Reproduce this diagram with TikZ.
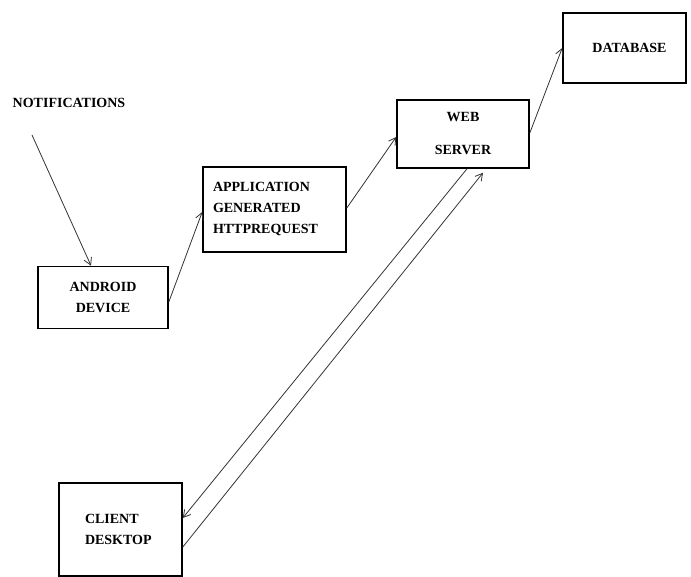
\documentclass[tikz,border=0pt]{standalone}
\usepackage{fontspec}
\setmainfont{Liberation Serif}
\usetikzlibrary{arrows.meta}

\begin{document}
\begin{tikzpicture}[x=1pt, y=-1pt,
    box/.style={draw, line width=1.6pt, inner sep=0pt, align=center,
        font=\bfseries\fontsize{14}{21}\selectfont},
    flow/.style={line width=0.8pt, black!80, -{Straight Barb[length=7pt,width=8pt]}}]
    \useasboundingbox (0,0) rectangle (691,577);

    \node[font=\bfseries\fontsize{14}{21}\selectfont] (notif) at (69,103) {NOTIFICATIONS};
    \coordinate (notifstart) at (32,135);

    \node[box, minimum width=130, minimum height=62] (android) at (103,297.5) {ANDROID\\DEVICE};
    \node[box, minimum width=143, minimum height=85, text width=123, align=left] (app) at (274.5,209.5)
        {APPLICATION\\GENERATED\\HTTPREQUEST};
    \node[box, minimum width=132, minimum height=68] (web) at (463,134) {WEB\\[12pt]SERVER};
    \node[box, minimum width=123, minimum height=70] (db) at (624.5,48) {\hspace{10pt}DATABASE};
    \node[box, minimum width=123, minimum height=93, text width=71, align=left] (client) at (120.5,529.5)
        {CLIENT\\DESKTOP};

    \draw[flow] (notifstart) -- ([xshift=-12pt]android.north);
    \draw[flow] ([yshift=-4.5pt]android.east) -- ([yshift=-2.5pt]app.west);
    \draw[flow] ([yshift=1.5pt]app.east) -- ([yshift=-3pt]web.west);
    \draw[flow] ([yshift=1pt]web.east) -- (db.west);
    % two links between web server and client
    \draw[flow] ([xshift=4pt]web.south) -- ([yshift=11.5pt]client.east);
    \draw[flow] ([yshift=-17.5pt]client.east) -- ([xshift=20pt,yshift=-4pt]web.south);
\end{tikzpicture}
\end{document}
